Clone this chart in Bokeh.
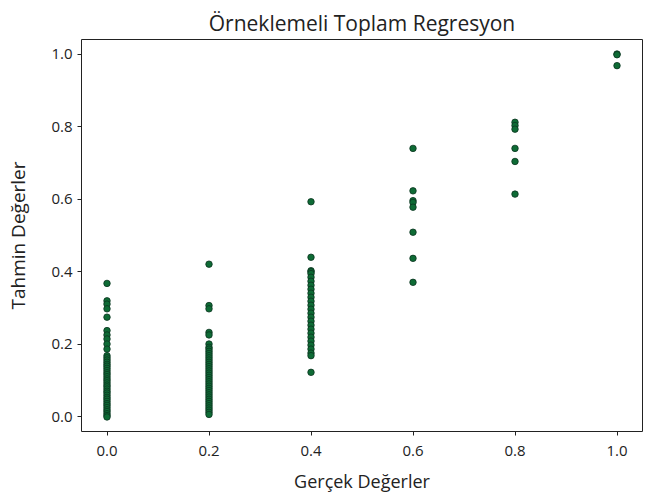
from bokeh.plotting import figure
from bokeh.models import FixedTicker, Range1d, ColumnDataSource, CustomJSTickFormatter
from bokeh.embed import file_html
from bokeh.resources import INLINE

# Actual values (Gerçek) per column and predicted values (Tahmin)
pred_00 = [0.368, 0.320, 0.311, 0.298, 0.275, 0.238, 0.226, 0.215, 0.201, 0.187,
           0.169, 0.163, 0.157, 0.151, 0.145, 0.140, 0.134, 0.128, 0.122, 0.117,
           0.111, 0.105, 0.100, 0.094, 0.088, 0.083, 0.077, 0.071, 0.066, 0.060,
           0.054, 0.049, 0.043, 0.037, 0.032, 0.026, 0.020, 0.015, 0.009, 0.004, 0.000]
pred_02 = [0.421, 0.307, 0.298, 0.233, 0.226, 0.201, 0.192,
           0.187, 0.181, 0.175, 0.169, 0.163, 0.157, 0.151, 0.145, 0.139, 0.133,
           0.127, 0.121, 0.115, 0.109, 0.103, 0.097, 0.091, 0.085, 0.079, 0.073,
           0.067, 0.061, 0.055, 0.049, 0.043, 0.037, 0.031, 0.025, 0.019, 0.013, 0.007]
pred_04 = [0.593, 0.440, 0.403, 0.400, 0.395, 0.385, 0.374, 0.363, 0.352, 0.341,
           0.330, 0.319, 0.308, 0.297, 0.286, 0.275, 0.264, 0.253, 0.242, 0.231,
           0.220, 0.209, 0.198, 0.187, 0.176, 0.169, 0.123]
pred_06 = [0.740, 0.623, 0.596, 0.591, 0.578, 0.509, 0.437, 0.371]
pred_08 = [0.812, 0.803, 0.793, 0.740, 0.704, 0.614]
pred_10 = [1.000, 0.998, 0.968]

actual_levels = [0.0, 0.2, 0.4, 0.6, 0.8, 1.0]
pred_groups = [pred_00, pred_02, pred_04, pred_06, pred_08, pred_10]

x_ticks = [0.0, 0.2, 0.4, 0.6, 0.8, 1.0]
y_ticks = [0.0, 0.2, 0.4, 0.6, 0.8, 1.0]

xs, ys = [], []
for a, grp in zip(actual_levels, pred_groups):
    for v in grp:
        xs.append(a)
        ys.append(v)
src = ColumnDataSource(dict(x=xs, y=ys))

FONT = "Open Sans"

p = figure(width=647, height=491, frame_width=561, frame_height=392,
           output_backend="svg", toolbar_location=None,
           title="Örneklemeli Toplam Regresyon",
           x_range=Range1d(-0.05, 1.05), y_range=Range1d(-0.04, 1.04),
           min_border_left=81, min_border_top=39, min_border_right=5, min_border_bottom=60)

p.scatter("x", "y", source=src, size=6.5, fill_color="#0e6b35", line_color="#0b3320",
          line_width=0.8)

p.title.align = "center"
p.title.text_font = FONT
p.title.text_font_size = "21px"
p.title.text_font_style = "normal"
p.title.text_color = "#222222"
p.title.standoff = 5

p.grid.visible = False
p.outline_line_color = "#222222"
p.outline_line_width = 1
p.background_fill_color = "white"
p.border_fill_color = "white"

for ax, ticks in ((p.xaxis, x_ticks), (p.yaxis, y_ticks)):
    ax.ticker = FixedTicker(ticks=ticks)
    ax.minor_tick_line_color = None
    ax.major_tick_in = 0
    ax.major_tick_out = 4
    ax.major_tick_line_color = "#222222"
    ax.axis_line_color = None
    ax.major_label_text_font = FONT
    ax.major_label_text_font_size = "15px"
    ax.major_label_text_color = "#222222"
    ax.axis_label_text_font = FONT
    ax.axis_label_text_font_style = "normal"
    ax.axis_label_text_color = "#222222"

fmt = CustomJSTickFormatter(code="return tick.toFixed(1);")
p.xaxis.formatter = fmt
p.yaxis.formatter = fmt
p.xaxis.axis_label = "Gerçek Değerler"
p.yaxis.axis_label = "Tahmin Değerler"
p.xaxis.axis_label_text_font_size = "18px"
p.yaxis.axis_label_text_font_size = "19px"
p.yaxis.major_label_orientation = "horizontal"
p.xaxis.major_label_standoff = 10
p.xaxis.axis_label_standoff = 10
p.yaxis.axis_label_standoff = 17

open("out.html", "w").write(file_html(p, INLINE))
